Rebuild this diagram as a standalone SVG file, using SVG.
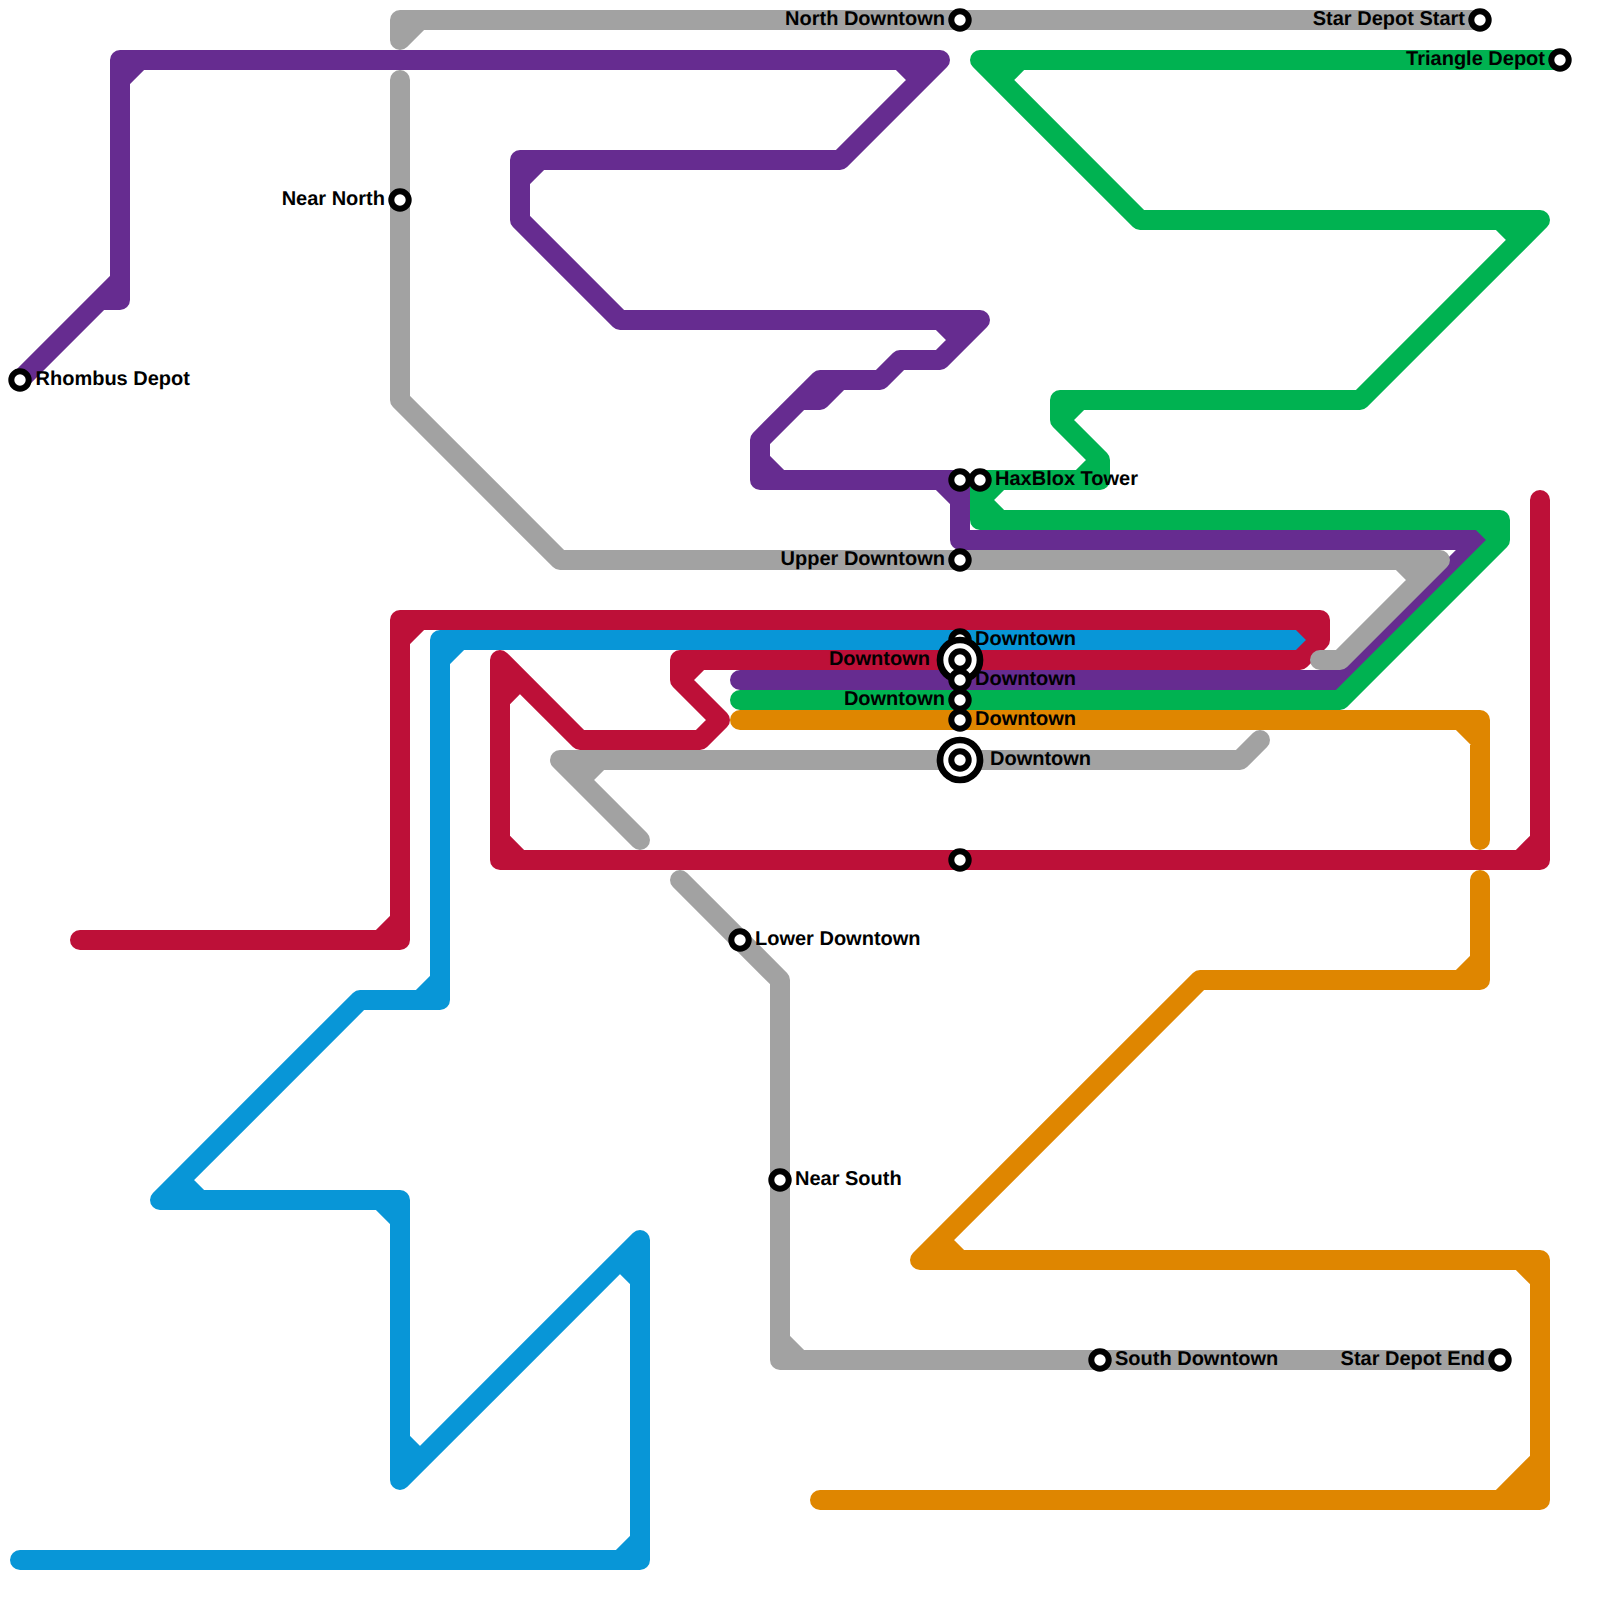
<svg xmlns="http://www.w3.org/2000/svg" width="1600" height="1600" viewBox="0 0 1600 1600">
<style>
.l{fill:none;stroke-width:20;stroke-linecap:round;stroke-linejoin:round}
.blue{stroke:#0896d7}.red{stroke:#bd1038}.orange{stroke:#df8600}.purple{stroke:#662c90}.green{stroke:#00b251}.gray{stroke:#a2a2a2}
.s{fill:#fff;stroke:#000;stroke-width:6}
.b{fill:#fff;stroke:#000;stroke-width:6.7}
.t{font-family:"Liberation Sans",Arial,sans-serif;font-size:20px;font-weight:700;fill:#000;text-rendering:geometricPrecision}
.e{text-anchor:end}
</style>
<rect width="1600" height="1600" fill="#fff"/>
<g id="connectors">
<path id="line-blue" class="l blue" d="M20,1560H640V1240L400,1480V1200H160L360,1000H440V640H1300M620,1560L640,1540M620,1260L640,1280M400,1440L420,1460M380,1200L400,1220M180,1180L200,1200M420,1000L440,980M440,660L460,640"/>
<path id="line-red" class="l red" d="M80,940H400V620H1320V640L1300,660H680V680L720,720L700,740H580L500,660V860H1540V500M380,940L400,920M400,640L420,620M1300,620L1320,640M680,680L700,660M500,700L520,680M500,840L520,860M1520,860L1540,840"/>
<path id="line-orange" class="l orange" d="M740,720H1480V840M1480,880V980H1200L920,1260H1540V1500H820M1460,720L1480,740M1460,980L1480,960M940,1240L960,1260M1520,1260L1540,1280M1500,1500L1540,1460M1520,1500L1540,1480"/>
<path id="line-purple" class="l purple" d="M20,380L100,300H120V60H940L840,160H520V220L620,320H980L940,360H900L880,380H820L760,440V480H960V540H1480L1340,680H740M100,300L120,280M120,80L140,60M900,60L920,80M520,180L540,160M940,320L960,340M800,400H820L840,380M760,460L780,480M940,480L960,500"/>
<path id="line-green" class="l green" d="M1560,60H980L1140,220H1540L1360,400H1060V420L1100,460V480H980V520H1500V540L1340,700H740M1000,80L1020,60M1500,220L1520,240M1060,420L1080,400M1080,480L1100,460M980,500L1000,520M980,500L1000,480M1480,520L1500,540"/>
<path id="line-gray" class="l gray" d="M400,40V20H1480M400,40L420,20M400,80V400L560,560H1440L1340,660H1320M1400,560L1420,580M1260,740L1240,760H560L640,840M580,780L600,760M680,880L780,980V1360H1500M780,1340L800,1360"/>
</g>
<g id="stations">
<g id="rhombus-depot"><circle class="s" cx="20" cy="380" r="8.7"/><text class="t" x="35.500" y="385">Rhombus Depot</text></g>
<g id="near-north"><circle class="s" cx="400" cy="200" r="8.7"/><text class="t e" x="385" y="205">Near North</text></g>
<g id="north-downtown"><circle class="s" cx="960" cy="20" r="8.7"/><text class="t e" x="945" y="25">North Downtown</text></g>
<g id="star-depot-start"><circle class="s" cx="1480" cy="20" r="8.7"/><text class="t e" x="1465" y="25">Star Depot Start</text></g>
<g id="triangle-depot"><circle class="s" cx="1560" cy="60" r="8.7"/><text class="t e" x="1545" y="65">Triangle Depot</text></g>
<g id="purple-junction"><circle class="s" cx="960" cy="480" r="8.7"/></g>
<g id="haxblox-tower"><circle class="s" cx="980" cy="480" r="8.7"/><text class="t" x="995" y="485">HaxBlox Tower</text></g>
<g id="upper-downtown"><circle class="s" cx="960" cy="560" r="8.7"/><text class="t e" x="945" y="565">Upper Downtown</text></g>
<g id="downtown-blue"><circle class="s" cx="960" cy="640" r="8.7"/><text class="t" x="975" y="645">Downtown</text></g>
<g id="downtown-red"><circle class="b" cx="960" cy="660" r="20"/><circle class="s" cx="960" cy="660" r="8.7"/><text class="t e" x="930" y="665">Downtown</text></g>
<g id="downtown-purple"><circle class="s" cx="960" cy="680" r="8.7"/><text class="t" x="975" y="685">Downtown</text></g>
<g id="downtown-green"><circle class="s" cx="960" cy="700" r="8.7"/><text class="t e" x="945" y="705">Downtown</text></g>
<g id="downtown-orange"><circle class="s" cx="960" cy="720" r="8.7"/><text class="t" x="975" y="725">Downtown</text></g>
<g id="downtown-gray"><circle class="b" cx="960" cy="760" r="20"/><circle class="s" cx="960" cy="760" r="8.7"/><text class="t" x="990" y="765">Downtown</text></g>
<g id="red-junction"><circle class="s" cx="960" cy="860" r="8.7"/></g>
<g id="lower-downtown"><circle class="s" cx="740" cy="940" r="8.7"/><text class="t" x="755" y="945">Lower Downtown</text></g>
<g id="near-south"><circle class="s" cx="780" cy="1180" r="8.7"/><text class="t" x="795" y="1185">Near South</text></g>
<g id="south-downtown"><circle class="s" cx="1100" cy="1360" r="8.7"/><text class="t" x="1115" y="1365">South Downtown</text></g>
<g id="star-depot-end"><circle class="s" cx="1500" cy="1360" r="8.7"/><text class="t e" x="1485" y="1365">Star Depot End</text></g>
</g>
</svg>
